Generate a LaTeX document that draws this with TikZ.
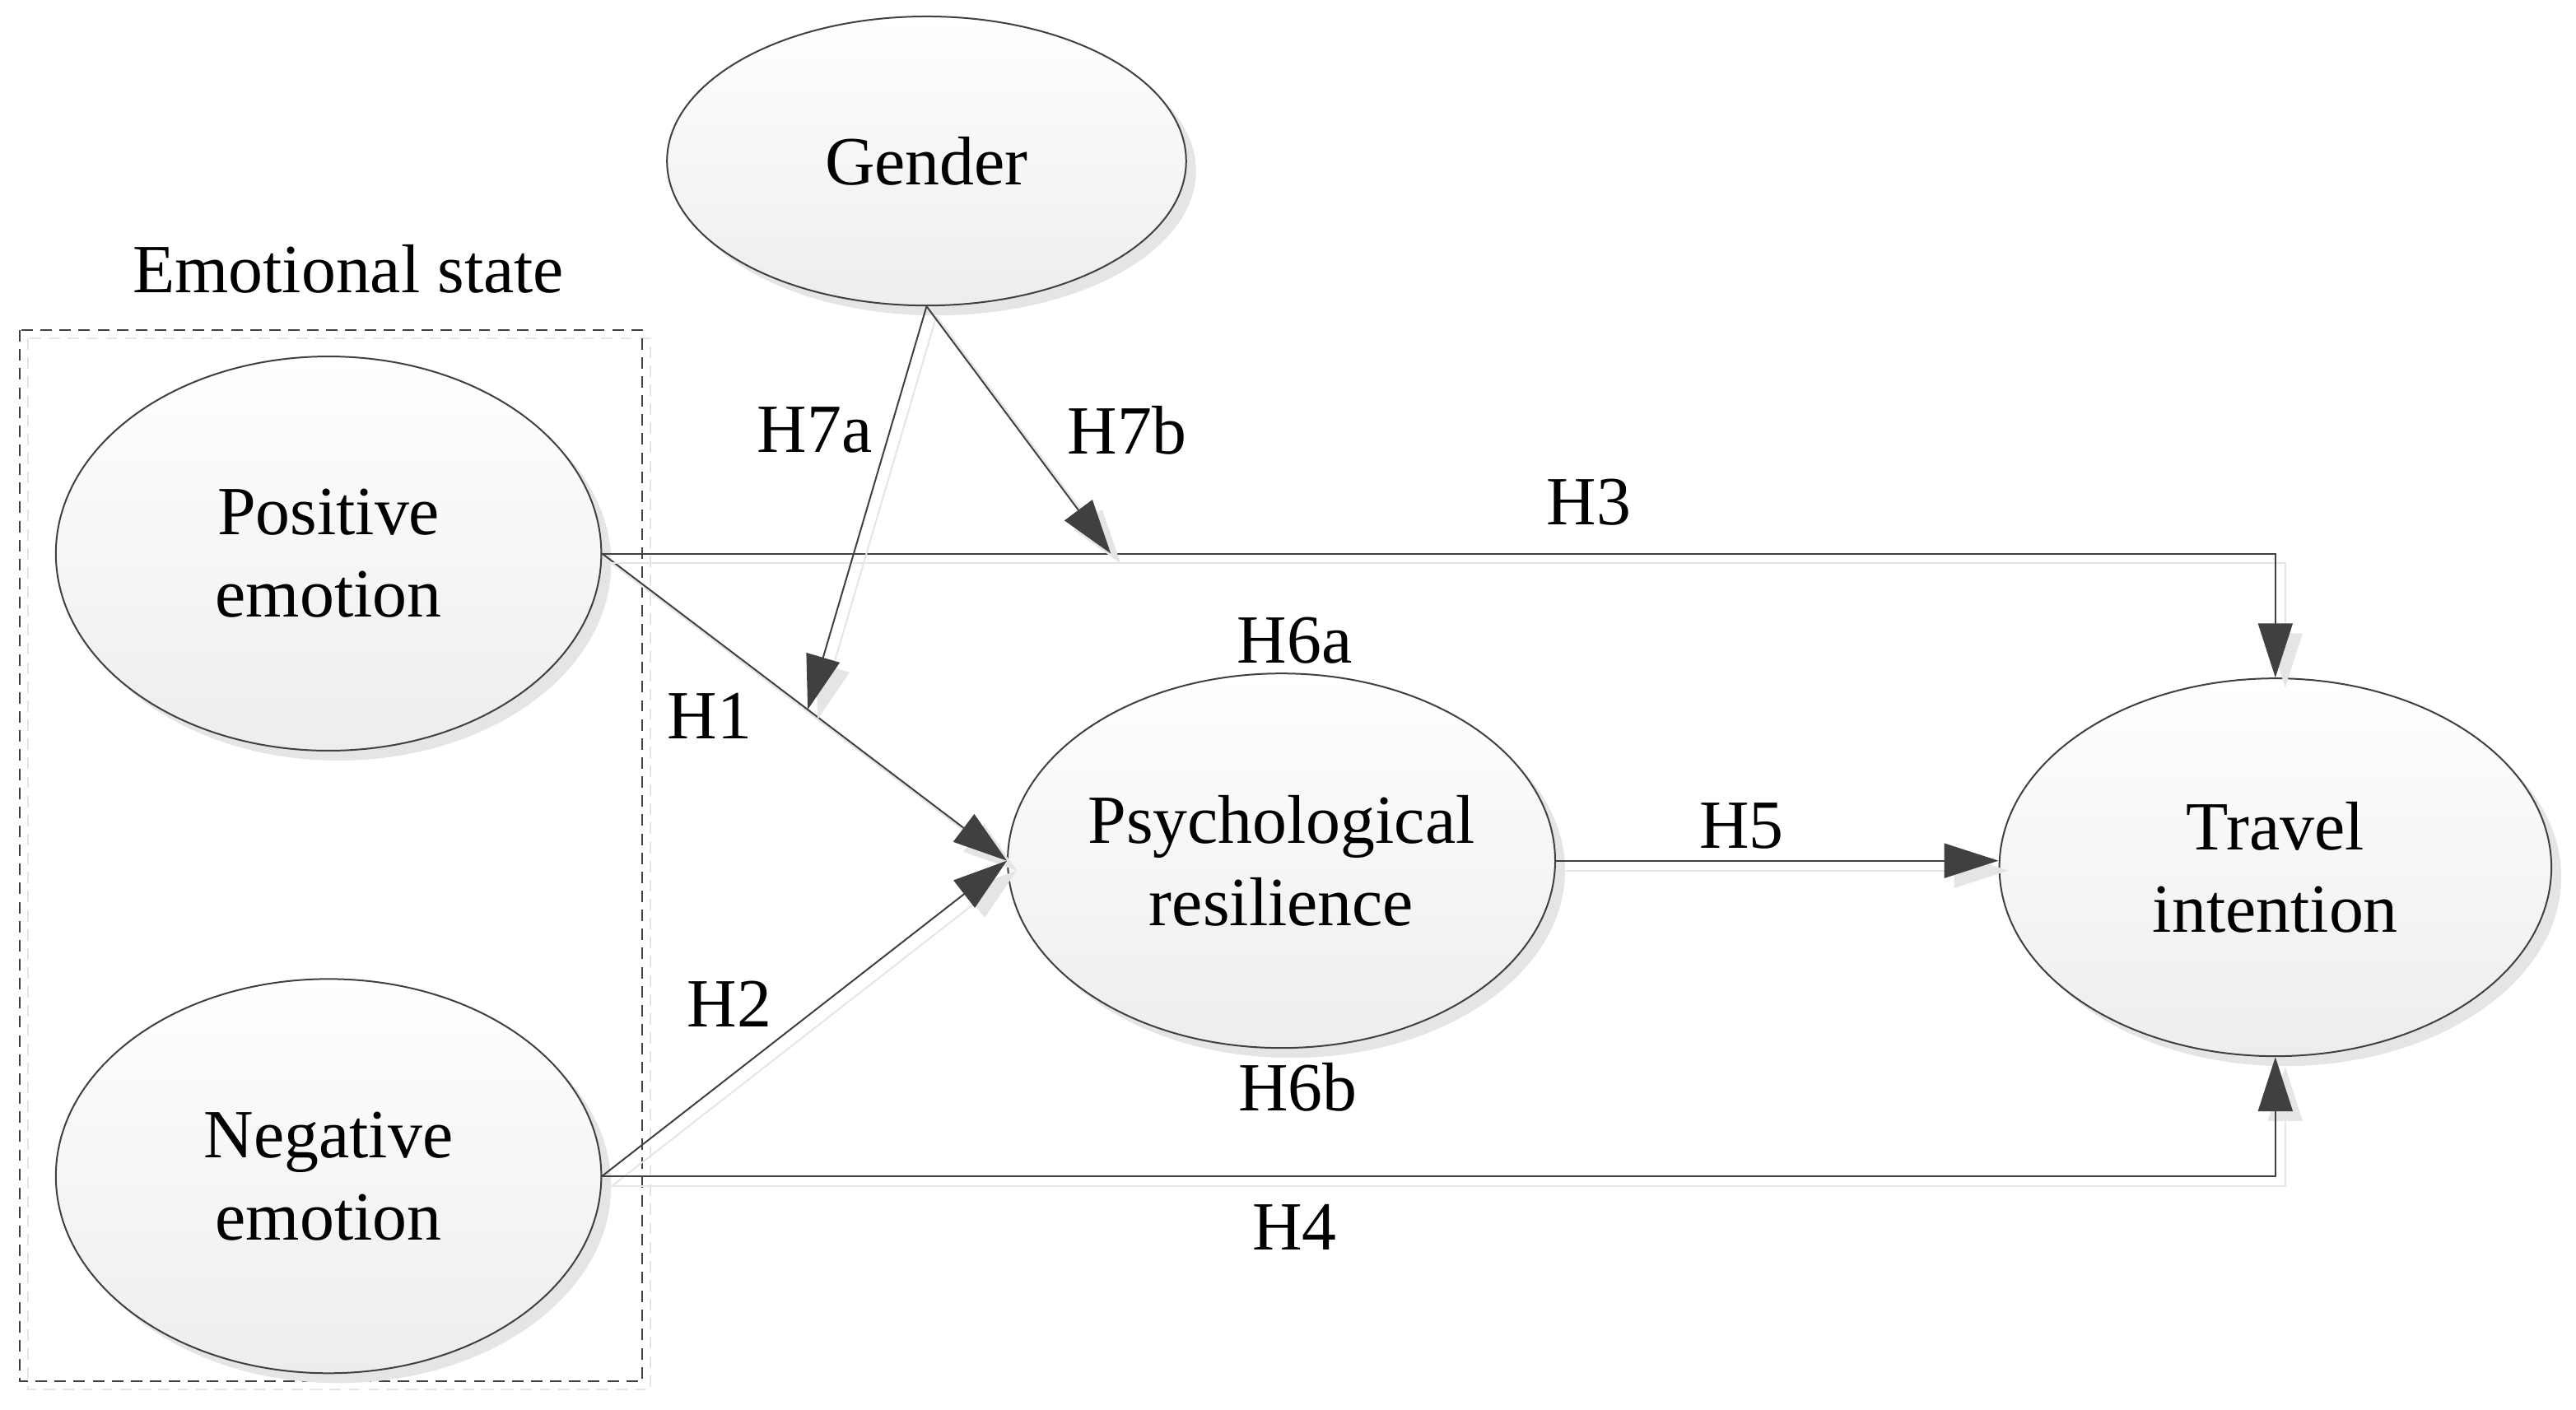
\documentclass[tikz,border=0pt]{standalone}
\usepackage{fontspec}
\setmainfont{Liberation Serif}
\usetikzlibrary{arrows.meta,calc,shadows,shapes.geometric}
\tikzset{
  lbl/.style={font=\fontsize{21}{25}\selectfont, inner sep=0pt, align=center},
  blob/.style={ellipse, draw=black!75, line width=0.5pt, top color=white, bottom color=black!7,
    drop shadow={shadow xshift=3pt, shadow yshift=-3pt, fill=black!10, opacity=1},
    inner sep=0pt, align=center, font=\fontsize{21}{25}\selectfont},
  conn/.style={draw=black!75, line width=0.5pt,
    -{Triangle[length=16.5pt,width=10.5pt]},
    preaction={draw=black!10, line width=0.5pt, transform canvas={xshift=3pt,yshift=-3pt}}},
  grp/.style={draw=black!75, line width=0.5pt, dash pattern=on 3.5pt off 2.3pt}
}
\begin{document}
\begin{tikzpicture}[x=0.5pt,y=-0.5pt]
\useasboundingbox (0,0) rectangle (1568,858.4);
% group box
\draw[draw=black!10, line width=0.5pt, dash pattern=on 3.5pt off 2.3pt] (17,206) rectangle (396,846);
\draw[grp] (12,201) rectangle (391,841);
\node[lbl] (title) at (212,164) {Emotional state};
% nodes
\node[blob, minimum width=158pt, minimum height=88pt] (gender) at (564,98) {Gender};
\node[blob, minimum width=166pt, minimum height=120pt] (pos) at (200,337) {Positive\\emotion};
\node[blob, minimum width=166pt, minimum height=120pt] (neg) at (200,716) {Negative\\emotion};
\node[blob, minimum width=166pt, minimum height=114pt] (psych) at (780,524) {Psychological\\resilience};
\node[blob, minimum width=168pt, minimum height=115pt] (travel) at (1385,528) {Travel\\intention};
% helper coordinates
\coordinate (h3corner) at (pos.east -| travel.north);
\coordinate (h4corner) at (neg.east -| travel.south);
\coordinate (h7aend) at ($(pos.east)!0.508!(psych.west)$);
\coordinate (h7bend) at ($(pos.east)!0.304!(h3corner)$);
% connectors
\draw[conn] (pos.east) -- (psych.west);
\draw[conn] (neg.east) -- (psych.west);
\draw[conn] (pos.east) -- (h3corner) -- (travel.north);
\draw[conn] (neg.east) -- (h4corner) -- (travel.south);
\draw[conn] (psych.east) -- (psych.east -| travel.west);
\draw[conn] (gender.south) -- (h7aend);
\draw[conn] (gender.south) -- (h7bend);
% labels
\node[lbl] (lH1) at (432,436) {H1};
\node[lbl] (lH2) at (444,611) {H2};
\node[lbl] (lH3) at (967,306) {H3};
\node[lbl] (lH4) at (788,747) {H4};
\node[lbl] (lH5) at (1060,503) {H5};
\node[lbl] (lH6a) at (788,390) {H6a};
\node[lbl] (lH6b) at (790,662) {H6b};
\node[lbl] (lH7a) at (496,262) {H7a};
\node[lbl] (lH7b) at (686,262) {H7b};
\end{tikzpicture}
\end{document}
